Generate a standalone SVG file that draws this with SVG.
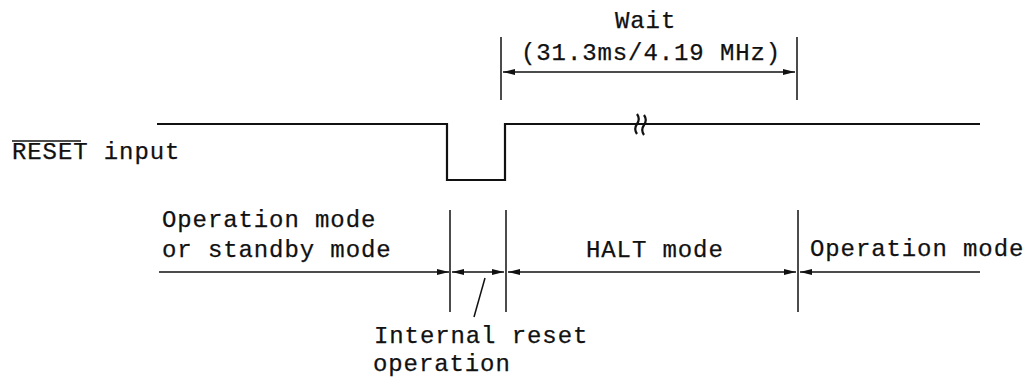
<svg xmlns="http://www.w3.org/2000/svg" width="1036" height="382" viewBox="0 0 1036 382">
<style>
text{font-family:"Liberation Mono","Courier New",monospace;font-size:24px;letter-spacing:0.9px;fill:#111;stroke:#111;stroke-width:0.25}
.sig{fill:none;stroke:#111;stroke-width:2.2}
.ln{fill:none;stroke:#111;stroke-width:1.5}
.ar{fill:none;stroke:#111;stroke-width:1.6}
</style>
<defs>
<marker id="ah" viewBox="0 0 12 6" refX="12" refY="3" markerWidth="12" markerHeight="6" markerUnits="userSpaceOnUse" orient="auto-start-reverse">
<path d="M0,0 L12,3 L0,6 Z" fill="#111"/>
</marker>
</defs>
<rect width="1036" height="382" fill="#fff"/>
<g id="signal">
<path class="sig" d="M157,124 H447 V180 H505 V124 H980"/>
<path class="sig" d="M637,114 q3.5,5 0,10 q-3.5,5 0,10 M644,115 q3.5,5 0,10 q-3.5,5 0,10" stroke-width="2"/>
</g>
<g id="reset-label">
<text x="12" y="159">RESET input</text>
<line class="ln" x1="12" y1="141" x2="81" y2="141"/>
</g>
<g id="wait-label">
<text x="615" y="28">Wait</text>
<text x="521" y="60">(31.3ms/4.19 MHz)</text>
</g>
<g id="op-standby"><text x="162" y="227">Operation mode</text><text x="162" y="257">or standby mode</text></g>
<g id="halt"><text x="586" y="257">HALT mode</text></g>
<g id="op-mode"><text x="810" y="256">Operation mode</text></g>
<g id="internal-reset"><text x="374" y="343">Internal reset</text><text x="373" y="371">operation</text></g>
<g id="connectors">
<line class="ln" x1="501" y1="37" x2="501" y2="100"/>
<line class="ln" x1="797" y1="37" x2="797" y2="100"/>
<line class="ar" x1="503" y1="72" x2="795" y2="72" marker-start="url(#ah)" marker-end="url(#ah)"/>
<line class="ln" x1="450" y1="210" x2="450" y2="312"/>
<line class="ln" x1="506" y1="210" x2="506" y2="312"/>
<line class="ln" x1="798" y1="210" x2="798" y2="312"/>
<line class="ar" x1="159" y1="272" x2="449" y2="272" marker-end="url(#ah)"/>
<line class="ar" x1="452" y1="272" x2="504" y2="272" marker-start="url(#ah)" marker-end="url(#ah)"/>
<line class="ar" x1="508" y1="272" x2="796" y2="272" marker-start="url(#ah)" marker-end="url(#ah)"/>
<line class="ar" x1="980" y1="272" x2="800" y2="272" marker-end="url(#ah)"/>
<line class="ln" x1="485" y1="278" x2="474" y2="317"/>
</g>
</svg>
